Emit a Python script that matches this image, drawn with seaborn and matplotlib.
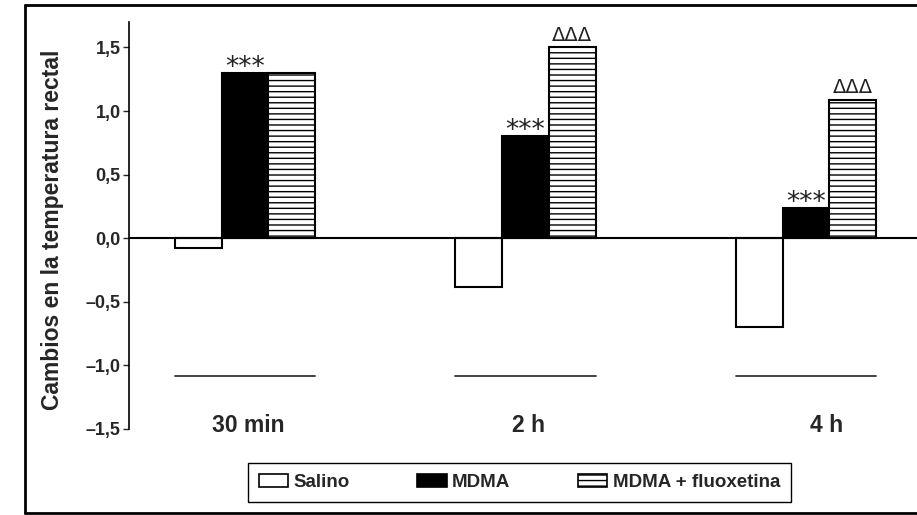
import matplotlib
matplotlib.use("Agg")
import matplotlib.pyplot as plt
from matplotlib.patches import Patch
from matplotlib.lines import Line2D
import seaborn as sns
import pandas as pd

# ---- data ----
categories = ["30 min", "2 h", "4 h"]
groups = ["Salino", "MDMA", "MDMA + fluoxetina"]
salino = [-0.08, -0.38, -0.70]
mdma = [1.30, 0.80, 0.24]
fluox = [1.30, 1.50, 1.09]
mdma_marks = ["***", "***", "***"]
fluox_marks = ["", "ΔΔΔ", "ΔΔΔ"]
ytick_vals = [-1.5, -1.0, -0.5, 0.0, 0.5, 1.0, 1.5]
ytick_labels = ["–1,5", "–1,0", "–0,5", "0,0", "0,5", "1,0", "1,5"]
ylabel = "Cambios en la temperatura rectal"

rows = []
for g, vals in zip(groups, [salino, mdma, fluox]):
    for c, v in zip(categories, vals):
        rows.append({"time": c, "group": g, "value": v})
df = pd.DataFrame(rows)

sns.set_style("white")
plt.rcParams["font.family"] = ["Liberation Sans", "DejaVu Sans"]
plt.rcParams["hatch.linewidth"] = 1.0
NARROW = ["Liberation Sans Narrow", "Liberation Sans", "DejaVu Sans"]

fig = plt.figure(figsize=(9.17, 5.15), dpi=100)
ax = fig.add_axes([129 / 917, (515 - 429) / 515, 788 / 917, 407 / 515])

palette = {"Salino": "white", "MDMA": "black", "MDMA + fluoxetina": "white"}
sns.barplot(data=df, x="time", y="value", hue="group", order=categories,
            hue_order=groups, palette=palette, saturation=1, width=0.5,
            errorbar=None, edgecolor="black", linewidth=1.5, legend=False, ax=ax)

hatches = ["", "", "---"]
for cont, h in zip(ax.containers, hatches):
    for bar in cont:
        bar.set_hatch(h)
        bar.set_edgecolor("black")

# annotations
for bar, m in zip(ax.containers[1], mdma_marks):
    if m:
        ax.text(bar.get_x() + bar.get_width() / 2, bar.get_height() - 0.015, m,
                ha="center", va="baseline", fontsize=19, family="DejaVu Sans",
                color="#222222")
for bar, m in zip(ax.containers[2], fluox_marks):
    if m:
        ax.text(bar.get_x() + bar.get_width() / 2, bar.get_height() + 0.05, m,
                ha="center", va="baseline", fontsize=14, family="DejaVu Sans",
                color="#222222")

# faint lines under each group
for i in range(len(categories)):
    ax.plot([i - 0.25, i + 0.25], [-1.08, -1.08], color="#333333", lw=1.3)

ax.axhline(0, color="black", lw=1.5, zorder=5)

ax.set_xlim(-0.4135, 2.396)
ax.set_ylim(-1.5, 1.7)
ax.set_yticks(ytick_vals)
ax.set_yticklabels(ytick_labels, fontsize=13, fontweight="bold")
ax.tick_params(axis="y", direction="out", length=4, width=1, left=True, pad=2)
ax.set_xticks([])
ax.set_xlabel("")
ax.set_ylabel(ylabel, fontsize=16.5, fontweight="bold")
ax.yaxis.set_label_coords((64 - 129) / 788, 0.489)
for s in ["top", "right", "bottom"]:
    ax.spines[s].set_visible(False)
ax.spines["left"].set_color("black")
ax.spines["left"].set_linewidth(1.2)

# category labels (slight shifts as printed in the original)
label_shift = [0.01, 0.01, 0.075]
for i, (c, sh) in enumerate(zip(categories, label_shift)):
    ax.text(i + sh, -1.47, c, ha="center", va="center", fontsize=16.5,
            fontweight="bold", family=NARROW)

# legend
handles = [Patch(facecolor=palette[g], edgecolor="black", hatch=h, lw=1.2)
           for g, h in zip(groups, hatches)]
leg = fig.legend(handles, groups, loc="center", bbox_to_anchor=(0.5665, 0.063),
                 ncol=3, frameon=True, fancybox=False, framealpha=1,
                 edgecolor="black", handlelength=1.55, handleheight=0.65,
                 columnspacing=3.6, borderpad=0.6, handletextpad=0.3,
                 prop={"family": NARROW, "weight": "bold", "size": 13.5})
leg.get_frame().set_linewidth(1.0)

# outer frame
fl = 25 / 917
ft = 1 - 5 / 515
fb = 1 - 513 / 515
for xs, ys in [([fl, fl], [fb, ft]), ([fl, 1.0], [ft, ft]), ([fl, 1.0], [fb, fb])]:
    fig.add_artist(Line2D(xs, ys, color="black", lw=2, transform=fig.transFigure))

fig.savefig("out.png", dpi=100)
